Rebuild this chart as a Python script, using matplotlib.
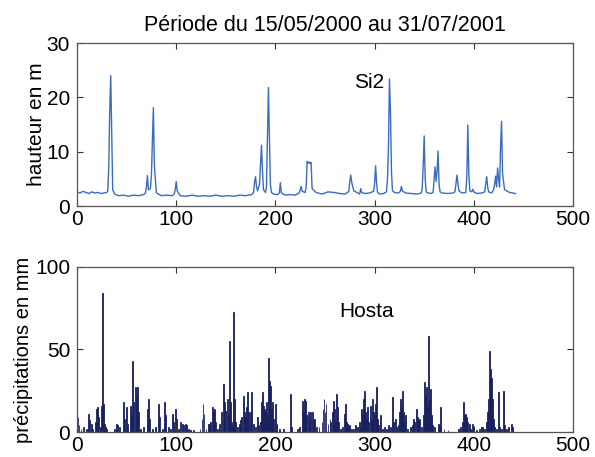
import numpy as np
import matplotlib
matplotlib.use('Agg')
import matplotlib.pyplot as plt

plt.rcParams['font.family'] = ['Liberation Sans', 'DejaVu Sans']

# hauteur d'eau a Si2 : (jour, m)
h_points = [(0, 2.6), (3, 2.4), (6, 2.7), (9, 2.5), (12, 2.3), (15, 2.6), (18, 2.4),
            (21, 2.5), (24, 2.3), (27, 2.4), (30, 2.5), (31, 2.7), (32, 7.0), (33, 17.5),
            (34, 24.0), (35, 14.0), (36, 3.0), (38, 2.2), (42, 1.9), (47, 2.0), (52, 1.8),
            (57, 2.0), (62, 1.9), (67, 2.1), (69, 2.4), (70, 3.5), (71, 5.6), (72, 3.0),
            (74, 3.2), (75, 5.5), (76, 12.0), (77, 18.1), (78, 7.5), (80, 2.4), (85, 1.9),
            (90, 2.0), (96, 1.9), (98, 2.2), (99, 3.0), (100, 4.5), (101, 2.8), (104, 1.9),
            (110, 1.8), (116, 2.0), (122, 1.8), (128, 1.9), (134, 1.8), (140, 2.0),
            (146, 1.8), (152, 1.9), (158, 1.8), (164, 2.0), (170, 1.9), (176, 2.1),
            (178, 2.5), (179, 4.5), (180, 5.4), (181, 3.5), (182, 2.8), (184, 4.0),
            (185, 7.5), (186, 11.2), (187, 6.5), (188, 3.0), (190, 2.5), (191, 3.5),
            (192, 12.5), (193, 21.8), (194, 12.3), (195, 4.0), (196, 2.5), (198, 2.2),
            (202, 2.1), (204, 2.4), (205, 4.3), (206, 2.4), (210, 2.0), (215, 2.1),
            (220, 2.0), (224, 2.4), (226, 3.6), (227, 2.7), (230, 2.5), (231, 3.5),
            (232, 8.2), (233, 7.9), (234, 8.1), (235, 7.8), (236, 8.0), (237, 3.2),
            (241, 2.5), (247, 2.2), (253, 2.6), (259, 2.5), (265, 2.3), (270, 2.2),
            (272, 2.4), (274, 2.7), (275, 4.5), (276, 5.7), (277, 4.3), (279, 2.8),
            (282, 2.5), (285, 2.2), (286, 3.2), (287, 2.5), (290, 2.3), (295, 2.4),
            (299, 2.7), (300, 4.0), (301, 7.4), (302, 4.3), (303, 2.5), (305, 2.2),
            (309, 2.3), (312, 2.6), (313, 5.0), (314, 11.0), (315, 23.4), (316, 17.5),
            (317, 6.5), (318, 2.8), (320, 2.5), (324, 2.4), (326, 2.7), (327, 3.6),
            (328, 2.8), (331, 2.4), (337, 2.3), (343, 2.2), (347, 2.4), (348, 3.2),
            (349, 7.5), (350, 12.9), (351, 5.0), (352, 2.6), (354, 2.4), (357, 2.3),
            (359, 2.5), (360, 5.0), (361, 7.2), (362, 4.5), (363, 6.5), (364, 10.1),
            (365, 4.0), (366, 2.6), (368, 2.4), (374, 2.3), (379, 2.4), (381, 2.6),
            (382, 4.0), (383, 5.7), (384, 4.2), (385, 2.8), (388, 2.4), (392, 2.5),
            (393, 5.5), (394, 14.9), (395, 6.0), (396, 2.8), (398, 2.6), (399, 3.1),
            (400, 2.6), (403, 2.3), (408, 2.4), (411, 2.6), (412, 4.0), (413, 5.4),
            (414, 3.5), (415, 2.6), (418, 2.4), (420, 3.0), (421, 4.0), (422, 5.5),
            (423, 3.5), (424, 7.0), (425, 5.0), (426, 3.5), (427, 11.0), (428, 15.6),
            (429, 6.0), (431, 3.0), (436, 2.5), (442, 2.3)]

# precipitations a Hosta : (jour, mm)
p_points = [(0, 10), (1, 9), (2, 4), (4, 2), (7, 3), (10, 2), (12, 11), (13, 7), (15, 5),
            (16, 2), (19, 6), (20, 14), (21, 15), (22, 9), (24, 3), (25, 16), (26, 84),
            (27, 17), (28, 5), (29, 3), (30, 2), (38, 2), (40, 5), (41, 4), (43, 3),
            (47, 18), (48, 8), (50, 15), (51, 5), (54, 16), (55, 10), (56, 43), (57, 18),
            (59, 27), (60, 22), (61, 27), (62, 12), (64, 2), (67, 3), (71, 14), (72, 20),
            (73, 8), (76, 2), (79, 3), (82, 17), (83, 9), (86, 2), (88, 18), (89, 10),
            (92, 3), (94, 2), (96, 11), (97, 6), (99, 14), (100, 8), (102, 2), (104, 6),
            (106, 5), (107, 4), (109, 5), (110, 4), (112, 2), (114, 1), (117, 1), (124, 2),
            (126, 8), (127, 17), (128, 11), (130, 2), (133, 5), (134, 5), (135, 6),
            (137, 15), (138, 12), (139, 14), (140, 6), (142, 2), (144, 5), (146, 12),
            (148, 29), (149, 18), (150, 13), (152, 20), (153, 10), (154, 55), (155, 18),
            (156, 6), (157, 4), (158, 73), (159, 20), (160, 6), (162, 3), (164, 5),
            (165, 7), (166, 9), (168, 22), (169, 12), (170, 9), (171, 15), (172, 24),
            (173, 12), (175, 12), (176, 24), (178, 5), (180, 3), (182, 9), (183, 4),
            (185, 6), (186, 18), (187, 24), (188, 16), (189, 14), (190, 12), (191, 18),
            (192, 10), (193, 45), (194, 31), (195, 28), (196, 14), (197, 18), (198, 8),
            (200, 17), (201, 5), (204, 2), (208, 2), (215, 23), (216, 3), (222, 2),
            (224, 3), (227, 19), (228, 12), (229, 20), (230, 19), (231, 10), (233, 12),
            (234, 8), (235, 12), (237, 12), (238, 7), (239, 8), (241, 3), (244, 3),
            (247, 6), (248, 14), (249, 20), (250, 12), (251, 17), (253, 5), (255, 8),
            (256, 6), (258, 12), (259, 19), (260, 14), (261, 6), (262, 23), (263, 15),
            (264, 6), (266, 2), (268, 3), (270, 11), (271, 17), (272, 6), (273, 5),
            (274, 3), (275, 4), (277, 2), (279, 2), (281, 4), (283, 3), (285, 6), (286, 3),
            (287, 14), (288, 10), (289, 20), (290, 25), (291, 12), (292, 8), (293, 15),
            (294, 6), (296, 16), (297, 7), (298, 20), (299, 12), (300, 10), (301, 17),
            (302, 27), (303, 8), (304, 4), (306, 10), (308, 2), (310, 3), (312, 2),
            (314, 4), (316, 3), (318, 21), (319, 6), (321, 8), (322, 3), (324, 4),
            (325, 12), (326, 20), (327, 15), (328, 25), (329, 12), (330, 6), (331, 10),
            (333, 2), (336, 3), (338, 4), (339, 8), (340, 6), (342, 14), (343, 9),
            (344, 7), (345, 8), (347, 3), (349, 10), (350, 30), (351, 22), (352, 27),
            (353, 15), (354, 58), (355, 20), (356, 26), (357, 10), (358, 4), (360, 3),
            (364, 5), (365, 3), (366, 15), (367, 3), (370, 2), (374, 1), (385, 2),
            (387, 3), (389, 6), (390, 18), (391, 10), (392, 11), (393, 9), (394, 6),
            (396, 5), (397, 2), (399, 5), (400, 2), (403, 1), (406, 2), (408, 3),
            (409, 3), (411, 2), (413, 6), (414, 12), (415, 20), (416, 49), (417, 38),
            (418, 33), (419, 20), (420, 8), (421, 3), (423, 2), (425, 24), (426, 3),
            (428, 2), (430, 25), (431, 4), (433, 2), (435, 3), (438, 5), (439, 3)]

h_days, h_vals = zip(*h_points)
p_days, p_vals = zip(*p_points)

fig = plt.figure(figsize=(5.95, 4.57), dpi=100)
ax1 = fig.add_axes([0.1294, 0.5492, 0.8336, 0.3567])
ax2 = fig.add_axes([0.1294, 0.0547, 0.8336, 0.3611])

ax1.plot(h_days, h_vals, color='#3a6cc0', lw=1.0)
ax1.set_xlim(0, 500)
ax1.set_ylim(0, 30)
ax1.set_yticks([0, 10, 20, 30])
ax1.set_ylabel('hauteur en m', fontsize=15)
ax1.yaxis.set_label_coords(-0.063, 0.5)
ax1.text(279, 22.8, 'Si2', fontsize=15, va='center', ha='left')
ax1.set_title('Période du 15/05/2000 au 31/07/2001', fontsize=15.5, pad=9)

ax2.bar(p_days, p_vals, width=0.9, color='#18215f', edgecolor='#18215f', lw=0.6)
ax2.set_xlim(0, 500)
ax2.set_ylim(0, 100)
ax2.set_yticks([0, 50, 100])
ax2.set_ylabel('précipitations en mm', fontsize=14.5)
ax2.yaxis.set_label_coords(-0.088, 0.5)
ax2.text(264, 73, 'Hosta', fontsize=15, va='center', ha='left')

for ax in (ax1, ax2):
    ax.set_xticks([0, 100, 200, 300, 400, 500])
    ax.tick_params(direction='in', top=True, right=True, length=4, width=0.8,
                   labelsize=15, color='#333333')
    ax.tick_params(axis='x', pad=3)
    ax.tick_params(axis='y', pad=5)
    for s in ax.spines.values():
        s.set_color('#555555')
        s.set_linewidth(0.9)

plt.savefig('out.png', dpi=100)
